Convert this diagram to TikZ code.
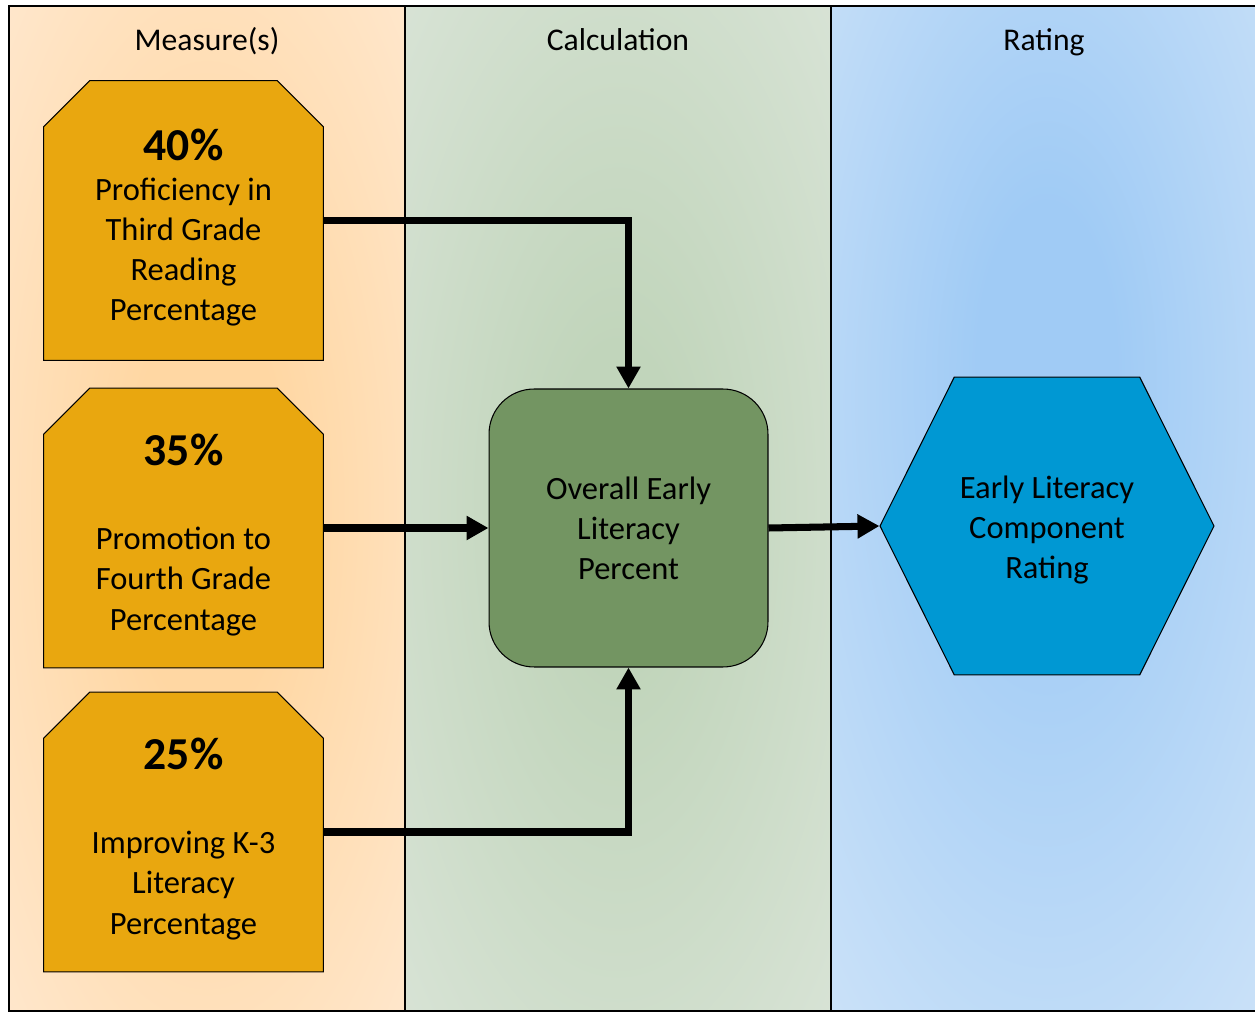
\documentclass[tikz,border=0pt]{standalone}
\usepackage{fontspec}
\setmainfont{Carlito}
\usetikzlibrary{shapes.symbols,arrows.meta}
\definecolor{measurefill}{HTML}{E9A70F}
\definecolor{calcfill}{HTML}{739562}
\definecolor{ratefill}{HTML}{0098D3}
\definecolor{peachin}{RGB}{255,215,163}
\definecolor{peachout}{RGB}{255,237,220}
\definecolor{sagein}{RGB}{193,213,187}
\definecolor{sageout}{RGB}{224,232,223}
\definecolor{skyin}{RGB}{160,203,245}
\definecolor{skyout}{RGB}{213,231,249}
\pgfdeclareradialshading{peachlane}{\pgfpoint{0bp}{0bp}}{color(0bp)=(peachin); color(10bp)=(peachin); color(46bp)=(peachout); color(70bp)=(peachout)}
\pgfdeclareradialshading{sagelane}{\pgfpoint{0bp}{0bp}}{color(0bp)=(sagein); color(8bp)=(sagein); color(46bp)=(sageout); color(70bp)=(sageout)}
\pgfdeclareradialshading{skylane}{\pgfpoint{0bp}{8bp}}{color(0bp)=(skyin); color(8bp)=(skyin); color(46bp)=(skyout); color(70bp)=(skyout)}
\tikzset{
    lanehead/.style={font=\fontsize{18}{21}\selectfont, text height=12pt, text depth=3pt},
    measure/.style={rectangle, minimum width=5.58cm, minimum height=5.58cm, inner sep=0pt},
    bodytext/.style={align=center, font=\fontsize{18.5}{22.8}\selectfont, inner sep=0pt},
    flow/.style={line width=4pt, -{Triangle[length=0.44cm,width=0.46cm]}}
}
\newcommand{\pct}[1]{{\bfseries\fontsize{26}{28}\selectfont #1}}
% chamfered box behind a measure: name, y, text
\newcommand{\measurebox}[3]{%
    \node[measure] (#1) at (183.5,#2) {};
    \draw[line width=0.6pt, fill=measurefill] (#1.south west)
        -- ([yshift=-0.92cm]#1.north west) -- ([xshift=0.92cm]#1.north west)
        -- ([xshift=-0.92cm]#1.north east) -- ([yshift=-0.92cm]#1.north east)
        -- (#1.south east) -- cycle;
    \node[bodytext] (#1text) at ([yshift=-4pt]#1) {#3};
}
\begin{document}
\begin{tikzpicture}[x=0.02cm,y=-0.02cm]
    \useasboundingbox (0,0) rectangle (1255,1013);
    % lanes
    \shade[shading=peachlane] (9,6) rectangle (405,1011);
    \shade[shading=sagelane] (405,6) rectangle (831,1011);
    \shade[shading=skylane] (831,6) rectangle (1262,1011);
    \draw[line width=1.2pt] (9,6) rectangle (1262,1011);
    \draw[line width=1.2pt] (405,6) -- (405,1011);
    \draw[line width=1.2pt] (831,6) -- (831,1011);
    \node[lanehead] (head1) at (207,43) {Measure(s)};
    \node[lanehead] (head2) at (618,43) {Calculation};
    \node[lanehead] (head3) at (1044,43) {Rating};

    % measures
    \measurebox{m1}{220.5}{\pct{40\%}\\[0pt]Proficiency in\\Third Grade\\Reading\\Percentage}
    \measurebox{m2}{528}{\pct{35\%}\\[25pt]Promotion to\\Fourth Grade\\Percentage}
    \measurebox{m3}{832}{\pct{25\%}\\[25pt]Improving K-3\\Literacy\\Percentage}

    \node[draw, line width=0.6pt, fill=calcfill, rounded corners=0.9cm,
        minimum width=5.58cm, minimum height=5.56cm, bodytext] (calc) at (628.5,528) {Overall Early\\Literacy\\Percent};

    \node[signal, signal to=west and east, signal pointer angle=127,
        draw, line width=0.6pt, fill=ratefill, inner sep=0pt,
        minimum width=6.68cm, minimum height=5.96cm] (rate) at (1047,526) {};
    \node[bodytext] (ratetext) at ([yshift=-2.3pt]rate) {Early Literacy\\Component\\Rating};

    \draw[flow] (m1.east) -| (calc.north);
    \draw[flow] (m2.east) -- (calc.west);
    \draw[flow] (m3.east) -| (calc.south);
    \draw[flow] (calc.east) -- (rate.west);
\end{tikzpicture}
\end{document}
